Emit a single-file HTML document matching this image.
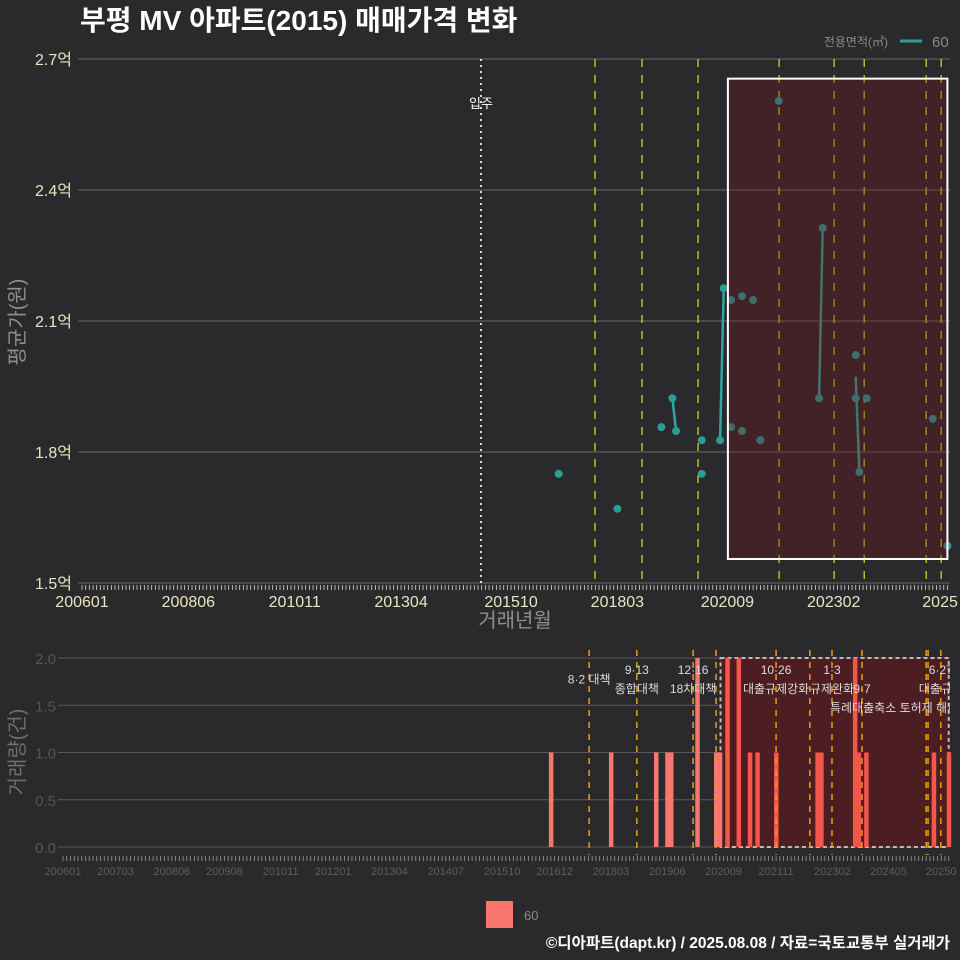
<!DOCTYPE html>
<html><head><meta charset="utf-8"><style>
html,body{margin:0;padding:0;background:#2a2a2c;}
svg{display:block;font-family:"Liberation Sans","Noto Sans CJK KR",sans-serif;}
</style></head><body>
<svg id="chart" width="960" height="960" xmlns="http://www.w3.org/2000/svg">
<rect x="0" y="0" width="960" height="960" fill="#2a2a2c"/>
<text x="80" y="30" font-size="28" font-weight="bold" fill="#ffffff">부평 MV 아파트(2015) 매매가격 변화</text>
<g>
<text x="888" y="46" font-size="12" fill="#8a8a8a" text-anchor="end">전용면적(㎡)</text>
<line x1="900" y1="41" x2="922" y2="41" stroke="#2a9d96" stroke-width="3"/>
<text x="932" y="47" font-size="15" fill="#8a8a8a">60</text>
</g>
<g id="topPanel"></g>
<g id="botPanel"></g>
<text transform="translate(24,322) rotate(-90)" font-size="20" fill="#8f8f8f" text-anchor="middle">평균가(원)</text>
<text x="515" y="627" font-size="20" fill="#8f8f8f" text-anchor="middle">거래년월</text>
<text transform="translate(24,752) rotate(-90)" font-size="20" fill="#6f6f6f" text-anchor="middle">거래량(건)</text>
<rect x="486" y="901" width="27" height="27" fill="#f8766d"/>
<text x="524" y="920" font-size="13" fill="#8a8a8a">60</text>
<text x="950" y="948" font-size="15.5" font-weight="bold" fill="#ffffff" text-anchor="end">©디아파트(dapt.kr) / 2025.08.08 / 자료=국토교통부 실거래가</text>
</svg>
<script>
// months since 2006-01
const tradeMonths = [130,146,158,161,162,169,169,174,175,177,177,180,180,183,185,190,201,202,211,211,212,214,232,236];
const tradePrices = [1.75,1.67,1.857,1.923,1.848,1.827,1.75,1.827,2.175,2.148,1.857,2.157,1.848,2.148,1.827,2.604,1.923,2.313,2.022,1.923,1.754,1.923,1.876,1.585];
const volMonths = [130,146,158,161,162,169,174,175,177,180,183,185,190,201,202,211,212,214,232,236];
const volCounts = [1,1,1,1,1,2,1,1,2,2,1,1,1,1,1,2,1,1,1,1];
const topPolicyMonths = [139.9,152.7,168,190.1,205.1,213.3,230.2,234.3];
const botPolicyMonths = [140.2,152.9,167.9,174,190,199,204.9,212.9,230,230.5,233.9];
const moveInMonth = 108.8;
const yTicks = [1.5,1.8,2.1,2.4,2.7];
const yTickLabels = ["1.5억","1.8억","2.1억","2.4억","2.7억"];
const xTickMonths = [0,29,58,87,117,146,176,205,234];
const xTickLabels = ["200601","200806","201011","201304","201510","201803","202009","202302","2025"];
const bxTickMonths = [0,14,29,43,58,72,87,102,117,131,146,161,176,190,205,220,234];
const bxTickLabels = ["200601","200703","200806","200908","201011","201201","201304","201407","201510","201612","201803","201906","202009","202111","202302","202405","20250"];
const vTicks = [0,0.5,1,1.5,2];
const vTickLabels = ["0.0","0.5","1.0","1.5","2.0"];
const annotations = [
 {m:140.2,row:0.5,t:"8·2 대책"},{m:152.9,row:0,t:"9·13"},{m:152.9,row:1,t:"종합대책"},
 {m:167.9,row:0,t:"12·16"},{m:167.9,row:1,t:"18차대책"},{m:190,row:0,t:"10·26"},
 {m:190,row:1,t:"대출규제강화"},{m:204.9,row:0,t:"1·3"},{m:204.9,row:1,t:"규제완화"},
 {m:212.9,row:1,t:"9·7"},{m:212.9,row:2,t:"특례대출축소 토허제 해제",anchor:"start",dx:-32},
 {m:233.9,row:0,t:"6·27"},{m:233.9,row:1,t:"대출규제"}
];
const regionStart = 176, regionEnd = 236, regionLow = 1.555, regionHigh = 2.655;

const NS="http://www.w3.org/2000/svg";
function mk(parent,tag,attrs,text){const e=document.createElementNS(NS,tag);for(const k in attrs)e.setAttribute(k,attrs[k]);if(text!==undefined)e.textContent=text;parent.appendChild(e);return e;}
const xT=m=>82+m*3.667, yT=v=>583-(v-1.5)/0.3*131;
const xB=m=>63+m*3.753, yB=c=>847-c*94.5;
const topG=document.getElementById('topPanel'), botG=document.getElementById('botPanel');

yTicks.forEach((v,i)=>{
 const g=mk(topG,'line',{x1:78,x2:950,y1:yT(v),y2:yT(v),stroke:'#6a6a6a','stroke-width':1});
 
 
 const t=mk(topG,'text',{x:72,y:yT(v)+6,'font-size':16,fill:'#e8e6c0','text-anchor':'end'},yTickLabels[i]);
 
 
});
for(let m=0;m<=236;m++){
 const tk=mk(topG,'line',{x1:xT(m),x2:xT(m),y1:585,y2:590,stroke:'#d8d8d0','stroke-width':0.8});
 
 
}
xTickMonths.forEach((m,i)=>{
 const t=mk(topG,'text',{x:xT(m),y:607,'font-size':16,fill:'#e8e6c0','text-anchor':'middle'},xTickLabels[i]);
 
 
});
const mv=mk(topG,'line',{x1:xT(moveInMonth),x2:xT(moveInMonth),y1:59,y2:583,stroke:'#dddddd','stroke-width':2,'stroke-dasharray':'2 4'});


const mvt=mk(topG,'text',{x:xT(moveInMonth),y:108,'font-size':13,fill:'#ffffff','text-anchor':'middle'},'입주');


topPolicyMonths.forEach(m=>{
 const l=mk(topG,'line',{x1:xT(m),x2:xT(m),y1:59,y2:583,stroke:'#e0e020','stroke-width':1.2,'stroke-dasharray':'8 8'});
 
 
});
const means={};
tradeMonths.forEach((m,i)=>{(means[m]=means[m]||[]).push(tradePrices[i]);});
const ms=Object.keys(means).map(Number).sort((a,b)=>a-b);
const avg=a=>a.reduce((s,v)=>s+v,0)/a.length;
for(let i=0;i<ms.length-1;i++){
 if(ms[i+1]-ms[i]===1){
  const l=mk(topG,'line',{x1:xT(ms[i]),y1:yT(avg(means[ms[i]])),x2:xT(ms[i+1]),y2:yT(avg(means[ms[i+1]])),stroke:'#2fa7a0','stroke-width':2.5});
  
  
 }
}
tradeMonths.forEach((m,i)=>{
 const c=mk(topG,'circle',{cx:xT(m),cy:yT(tradePrices[i]),r:4,fill:'#2a9d96'});
 
 
});
const reg=mk(topG,'rect',{x:xT(regionStart)+0.5,y:yT(regionHigh),width:xT(regionEnd)-xT(regionStart)-0.5,height:yT(regionLow)-yT(regionHigh),fill:'rgba(110,20,30,0.35)',stroke:'#ffffff','stroke-width':2});



vTicks.forEach((v,i)=>{
 const g=mk(botG,'line',{x1:58,x2:950,y1:yB(v),y2:yB(v),stroke:'#5a5a5a','stroke-width':1});
 
 
 const t=mk(botG,'text',{x:56,y:yB(v)+6,'font-size':15,fill:'#555555','text-anchor':'end'},vTickLabels[i]);
 
 
});
for(let m=0;m<=236;m++){
 const tk=mk(botG,'line',{x1:xB(m),x2:xB(m),y1:856,y2:861,stroke:'#9a9a9a','stroke-width':0.8});
 
 
}
bxTickMonths.forEach((m,i)=>{
 const t=mk(botG,'text',{x:xB(m),y:875,'font-size':11,fill:'#5e5e5e','text-anchor':'middle'},bxTickLabels[i]);
 
 
});
const breg=mk(botG,'rect',{x:xB(regionStart)-3,y:yB(2),width:xB(regionEnd)-xB(regionStart)+3,height:yB(0)-yB(2),fill:'#4c1e22',stroke:'#bbbbbb','stroke-width':2,'stroke-dasharray':'4 3'});


volMonths.forEach((m,i)=>{
 const inR=m>=regionStart;
 const b=mk(botG,'rect',{x:xB(m)-2,y:yB(volCounts[i]),width:4.5,height:yB(0)-yB(volCounts[i]),fill:inR?'#f4564c':'#f8766d'});
 
 
});
botPolicyMonths.forEach(m=>{
 const l=mk(botG,'line',{x1:xB(m),x2:xB(m),y1:650,y2:855,stroke:'#e8a010','stroke-width':1.5,'stroke-dasharray':'6 6'});
 
 
});
const clip=mk(botG,'clipPath',{id:'bclip'});
mk(clip,'rect',{x:0,y:640,width:950,height:220});
const ag=mk(botG,'g',{'clip-path':'url(#bclip)'});
annotations.forEach(a=>{
 const t=mk(ag,'text',{x:xB(a.m)+(a.dx||0),y:674+a.row*19,'font-size':12,fill:'#dddddd','text-anchor':a.anchor||'middle'},a.t);
 
 
});
</script>
</body></html>
